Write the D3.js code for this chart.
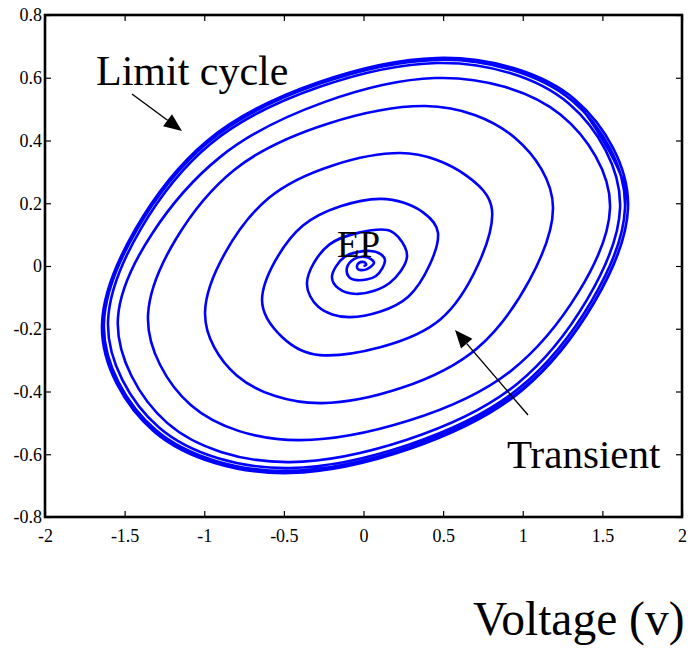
<!DOCTYPE html>
<html>
<head>
<meta charset="utf-8">
<script src="https://cdn.jsdelivr.net/npm/d3@7"></script>
<style>
  html, body { margin: 0; padding: 0; background: #fff; }
  text { font-family: "Liberation Serif", "Times New Roman", serif; fill: #000; }
</style>
</head>
<body>
<svg id="chart" width="693" height="650"></svg>
<script>
// Phase-plane trajectory, from the equilibrium point outward to the limit cycle
// (counter-clockwise). Each turn is sampled at: right, upper-right, top,
// upper-left, left, lower-left, bottom, lower-right.
const voltage = [
  0,
  0.016, 0.009, -0.009, -0.028, -0.041, -0.035, -0.016, 0.022,
  0.066, 0.047, 0.009, -0.060, -0.104, -0.091, -0.041, 0.078,
  0.135, 0.108, 0.041, -0.119, -0.198, -0.158, -0.035, 0.164,
  0.273, 0.219, 0.148, -0.213, -0.355, -0.284, -0.085, 0.281,
  0.468, 0.374, 0.104, -0.382, -0.637, -0.510, -0.273, 0.484,
  0.807, 0.646, 0.229, -0.597, -0.995, -0.796, -0.261, 0.714,
  1.190, 0.952, 0.386, -0.812, -1.353, -1.083, -0.399, 0.929,
  1.548, 1.238, 0.449, -0.901, -1.542, -1.233, -0.462, 0.966,
  1.611, 1.289, 0.462, -0.963, -1.604, -1.284, -0.462, 0.985,
  1.642, 1.314, 0.462, -0.978, -1.630, -1.304, -0.462, 0.997,
  1.661, 1.329, 0.462, -0.985, -1.642, -1.314, -0.462, 0.997,
  1.661, 1.329
];
const current = [
  0,
  0.003, 0.011, 0.013, 0.010, 0, -0.010, -0.013, -0.010,
  0.010, 0.022, 0.029, 0.022, -0.006, -0.035, -0.045, -0.032,
  0.019, 0.038, 0.048, 0.029, -0.035, -0.071, -0.089, -0.054,
  0.029, 0.092, 0.115, 0.069, -0.054, -0.130, -0.163, -0.098,
  0.105, 0.171, 0.214, 0.128, -0.108, -0.227, -0.284, -0.170,
  0.178, 0.288, 0.360, 0.216, -0.147, -0.349, -0.437, -0.262,
  0.185, 0.408, 0.510, 0.306, -0.156, -0.444, -0.555, -0.333,
  0.185, 0.482, 0.599, 0.347, -0.166, -0.500, -0.625, -0.375,
  0.185, 0.518, 0.647, 0.388, -0.175, -0.515, -0.644, -0.386,
  0.185, 0.525, 0.657, 0.394, -0.182, -0.523, -0.653, -0.392,
  0.185, 0.530, 0.663, 0.398, -0.185, -0.528, -0.660, -0.396,
  0.185, 0.530
];

const xTicks = [-2, -1.5, -1, -0.5, 0, 0.5, 1, 1.5, 2];
const xTickLabels = ["-2", "-1.5", "-1", "-0.5", "0", "0.5", "1", "1.5", "2"];
const yTicks = [-0.8, -0.6, -0.4, -0.2, 0, 0.2, 0.4, 0.6, 0.8];
const yTickLabels = ["-0.8", "-0.6", "-0.4", "-0.2", "0", "0.2", "0.4", "0.6", "0.8"];

const plot = { left: 45, right: 682, top: 15, bottom: 517 };

const svg = d3.select("#chart");
svg.append("rect").attr("width", 693).attr("height", 650).attr("fill", "#fff");

const x = d3.scaleLinear().domain([-2, 2]).range([plot.left, plot.right]);
const y = d3.scaleLinear().domain([-0.8, 0.8]).range([plot.bottom, plot.top]);

const tickLen = 6;

// axes with inward ticks on all four sides
const xAxisB = d3.axisBottom(x).tickValues(xTicks)
  .tickFormat((d, i) => xTickLabels[i]).tickSize(-tickLen).tickPadding(12);
const xAxisT = d3.axisTop(x).tickValues(xTicks).tickFormat("").tickSize(-tickLen);
const yAxisL = d3.axisLeft(y).tickValues(yTicks)
  .tickFormat((d, i) => yTickLabels[i]).tickSize(-tickLen).tickPadding(3);
const yAxisR = d3.axisRight(y).tickValues(yTicks).tickFormat("").tickSize(-tickLen);

function styleAxis(g) {
  g.select(".domain").remove();
  g.selectAll(".tick line").attr("stroke", "#000").attr("stroke-width", 1.2);
  g.selectAll(".tick text").attr("font-size", 18)
    .attr("font-family", "Liberation Serif, Times New Roman, serif").attr("fill", "#000");
}

svg.append("g").attr("transform", `translate(0,${plot.bottom})`).call(xAxisB).call(styleAxis);
svg.append("g").attr("transform", `translate(0,${plot.top})`).call(xAxisT).call(styleAxis);
svg.append("g").attr("transform", `translate(${plot.left},0)`).call(yAxisL).call(styleAxis);
svg.append("g").attr("transform", `translate(${plot.right},0)`).call(yAxisR).call(styleAxis);

// trajectory
const pts = voltage.map((v, i) => [v, current[i]]);
const line = d3.line()
  .x(d => x(d[0]))
  .y(d => y(d[1]))
  .curve(d3.curveCatmullRom.alpha(0.5));

svg.append("path")
  .attr("d", line(pts))
  .attr("fill", "none")
  .attr("stroke", "#0000ff")
  .attr("stroke-width", 2.6)
  .attr("stroke-linejoin", "round");

// frame
svg.append("rect")
  .attr("x", plot.left).attr("y", plot.top)
  .attr("width", plot.right - plot.left).attr("height", plot.bottom - plot.top)
  .attr("fill", "none").attr("stroke", "#000").attr("stroke-width", 2.6);

// annotation arrows
function arrow(x1, y1, x2, y2) {
  const ang = Math.atan2(y2 - y1, x2 - x1);
  const L = 18, W = 7.5;
  const bx = x2 - L * Math.cos(ang), by = y2 - L * Math.sin(ang);
  svg.append("line")
    .attr("x1", x1).attr("y1", y1).attr("x2", bx).attr("y2", by)
    .attr("stroke", "#000").attr("stroke-width", 1.4);
  svg.append("path")
    .attr("d", `M${x2},${y2}L${bx + W * Math.sin(ang)},${by - W * Math.cos(ang)}L${bx - W * Math.sin(ang)},${by + W * Math.cos(ang)}Z`)
    .attr("fill", "#000");
}

arrow(132, 94, 182, 131);
arrow(528, 415, 455, 330);

svg.append("text").attr("x", 96).attr("y", 85).attr("font-size", 42).text("Limit cycle");
svg.append("text").attr("x", 507).attr("y", 468).attr("font-size", 41).text("Transient");
svg.append("text").attr("x", 337).attr("y", 257).attr("font-size", 37).text("EP");
svg.append("text").attr("x", 473).attr("y", 635).attr("font-size", 47.5).text("Voltage (v)");
</script>
</body>
</html>
